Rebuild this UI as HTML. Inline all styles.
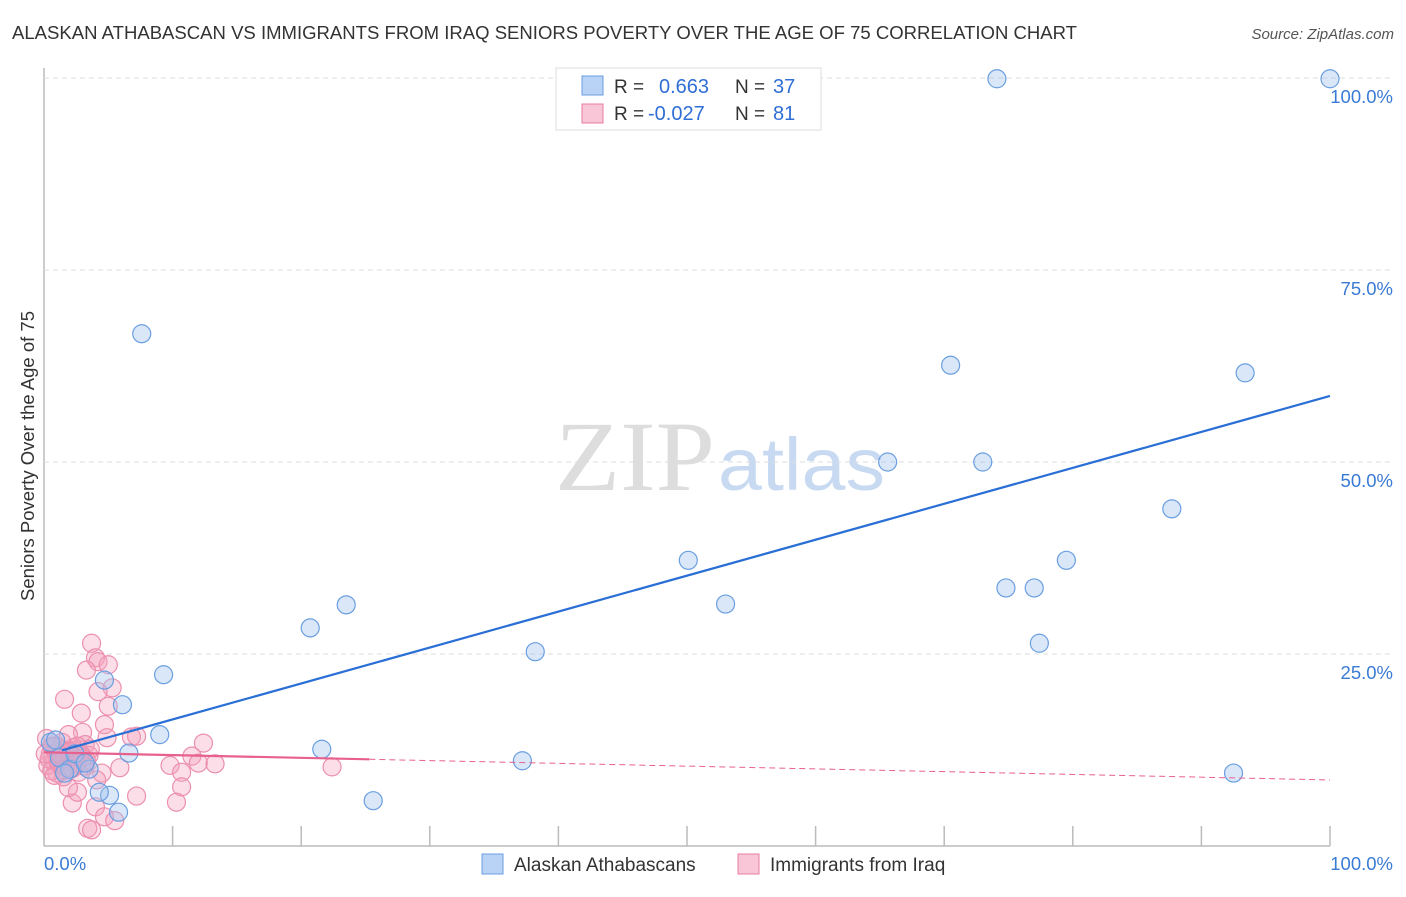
<!DOCTYPE html>
<html><head><meta charset="utf-8"><style>
body{margin:0;background:#fff;font-family:"Liberation Sans",sans-serif}
</style></head><body>
<svg id="c" width="1406" height="892" xmlns="http://www.w3.org/2000/svg">
<text x="12" y="39" font-size="18" fill="#333" textLength="1065" lengthAdjust="spacingAndGlyphs">ALASKAN ATHABASCAN VS IMMIGRANTS FROM IRAQ SENIORS POVERTY OVER THE AGE OF 75 CORRELATION CHART</text>
<text x="1394" y="39" font-size="15" fill="#555" font-style="italic" text-anchor="end">Source: ZipAtlas.com</text>
<text x="555" y="490" font-size="100" fill="#ddd" textLength="160" lengthAdjust="spacingAndGlyphs" font-family="Liberation Serif,serif">ZIP</text>
<text x="718" y="490" font-size="74" fill="#c8daf2" textLength="167" lengthAdjust="spacingAndGlyphs">atlas</text>
<text transform="translate(34,456) rotate(-90)" font-size="18.5" fill="#333" text-anchor="middle">Seniors Poverty Over the Age of 75</text>
<g id="grid"></g><g id="marks"></g>
<g>
<rect x="556" y="68" width="265" height="62" fill="#fff" stroke="#ddd"/>
<rect x="582" y="76" width="21" height="19" fill="#b8d3f5" stroke="#6a9ee0"/>
<rect x="582" y="104" width="21" height="19" fill="#f8c6d6" stroke="#e87ea0"/>
<text x="614" y="93" font-size="19" fill="#333">R =</text><text x="659" y="93" font-size="20" fill="#2f6fd6">0.663</text>
<text x="735" y="93" font-size="19" fill="#333">N =</text><text x="773" y="93" font-size="20" fill="#2f6fd6">37</text>
<text x="614" y="120" font-size="19" fill="#333">R =</text><text x="648" y="120" font-size="20" fill="#2f6fd6">-0.027</text>
<text x="735" y="120" font-size="19" fill="#333">N =</text><text x="773" y="120" font-size="20" fill="#2f6fd6">81</text>
</g>
<g>
<rect x="482" y="854" width="21" height="20" fill="#b8d3f5" stroke="#6a9ee0"/>
<text x="514" y="871" font-size="19" fill="#333">Alaskan Athabascans</text>
<rect x="738" y="854" width="21" height="20" fill="#f8c6d6" stroke="#e87ea0"/>
<text x="770" y="871" font-size="19" fill="#333">Immigrants from Iraq</text>
</g>
</svg>
<script>
const yTicks=[25,50,75,100];
const yTickLabels=["25.0%","50.0%","75.0%","100.0%"];
const xTicks=[10,20,30,40,50,60,70,80,90,100];
const blueX=[74.1,100,7.6,70.5,93.4,65.6,73.0,87.7,50.1,79.5,74.8,77.0,23.5,53.0,20.7,77.4,38.2,9.3,4.7,6.1,9.0,6.6,21.6,37.2,92.5,25.6,5.1,4.3,5.8,0.5,1.2,2.0,3.5,1.6,2.4,3.2,0.9];
const blueY=[99.9,99.9,66.7,62.6,61.6,50.0,50.0,43.9,37.2,37.2,33.6,33.6,31.4,31.5,28.4,26.4,25.3,22.3,21.6,18.4,14.5,12.1,12.6,11.1,9.5,5.9,6.6,7.0,4.4,13.5,11.5,10.0,10.0,9.5,12.0,10.8,13.8];
const pinkX=[3.7,4.0,4.2,3.3,5.0,5.3,4.2,1.6,5.0,2.9,4.7,3.0,4.9,6.8,7.2,1.9,12.4,11.5,12.0,13.3,9.8,10.7,10.7,10.3,22.4,5.9,7.2,4.0,4.7,5.5,3.4,3.7,2.2,2.6,1.9,4.5,4.1,1.5,1.0,
0.2,0.5,0.8,1.0,1.3,1.5,1.8,2.0,2.3,2.5,2.8,3.0,3.2,3.5,0.3,0.6,0.9,1.2,1.4,1.7,2.1,2.4,2.7,2.9,3.1,0.4,0.7,1.1,1.6,1.9,2.2,2.6,3.3,3.6,0.1,0.8,1.3,2.0,2.5,3.0,0.6,1.5];
const pinkY=[26.4,24.5,24.0,22.9,23.6,20.6,20.1,19.1,18.2,17.3,15.8,14.8,14.1,14.2,14.3,14.5,13.4,11.7,10.8,10.7,10.5,9.6,7.7,5.7,10.3,10.2,6.5,5.1,3.8,3.3,2.3,2.1,5.6,7.0,7.6,9.5,8.6,9.0,9.5,
14.0,12.0,11.0,13.0,10.5,12.5,11.5,10.0,12.8,11.2,12.0,10.8,13.2,11.8,10.5,9.8,12.2,11.0,13.5,10.2,11.6,12.4,9.6,11.9,10.4,11.3,12.9,10.9,11.4,12.1,10.1,13.0,11.1,12.6,12.0,9.2,11.8,12.3,10.7,11.5,13.0,9.9];
const blueTrend=[11.8,0.468]; // intercept, slope
const pinkTrend=[12.2,-0.036];
const pinkSolidEnd=25.3;
const X=v=>44+v*12.86, Y=v=>846-v*7.68;
const NS="http://www.w3.org/2000/svg";
function mk(parent,tag,attrs){const e=document.createElementNS(NS,tag);for(const k in attrs)e.setAttribute(k,attrs[k]);document.getElementById(parent).appendChild(e);return e;}
let e;
e=mk('grid','line',{x1:44,y1:68,x2:44,y2:846,stroke:'#bbb','stroke-width':1.5});


e=mk('grid','line',{x1:44,y1:846,x2:1330,y2:846,stroke:'#bbb','stroke-width':1.5});


yTicks.forEach((t,i)=>{
 e=mk('grid','line',{x1:44,y1:Y(t),x2:1394,y2:Y(t),stroke:'#ddd','stroke-dasharray':'5,4'});
 
 
 e=mk('grid','text',{x:1393,y:Y(t)+25,'font-size':18.5,fill:'#3a7bd5','text-anchor':'end'});
 e.textContent=yTickLabels[i];
 
 
});
xTicks.forEach(t=>{
 e=mk('grid','line',{x1:X(t),y1:826,x2:X(t),y2:846,stroke:'#bbb','stroke-width':1.5});
 
 
});
e=mk('grid','text',{x:44,y:870,'font-size':18.5,fill:'#3a7bd5'});e.textContent='0.0%';


e=mk('grid','text',{x:1393,y:870,'font-size':18.5,fill:'#3a7bd5','text-anchor':'end'});e.textContent='100.0%';


pinkX.forEach((v,i)=>{
 e=mk('marks','circle',{cx:X(v),cy:Y(pinkY[i]),r:9,fill:'rgba(244,160,190,0.35)',stroke:'#ec8fae','stroke-width':1.2});
 
 
});
blueX.forEach((v,i)=>{
 e=mk('marks','circle',{cx:X(v),cy:Y(blueY[i]),r:9,fill:'rgba(160,195,240,0.4)',stroke:'#6a9ee0','stroke-width':1.2});
 
 
});
const bf=x=>blueTrend[0]+blueTrend[1]*x, pf=x=>pinkTrend[0]+pinkTrend[1]*x;
e=mk('marks','line',{x1:X(1.4),y1:Y(bf(1.4)),x2:X(100),y2:Y(bf(100)),stroke:'#2a6fd6','stroke-width':2.2});


e=mk('marks','line',{x1:X(0),y1:Y(pf(0)),x2:X(pinkSolidEnd),y2:Y(pf(pinkSolidEnd)),stroke:'#e8608e','stroke-width':2.2});


e=mk('marks','line',{x1:X(pinkSolidEnd),y1:Y(pf(pinkSolidEnd)),x2:X(100),y2:Y(pf(100)),stroke:'#e8608e','stroke-width':1,'stroke-dasharray':'6,4'});


</script>
</body></html>
